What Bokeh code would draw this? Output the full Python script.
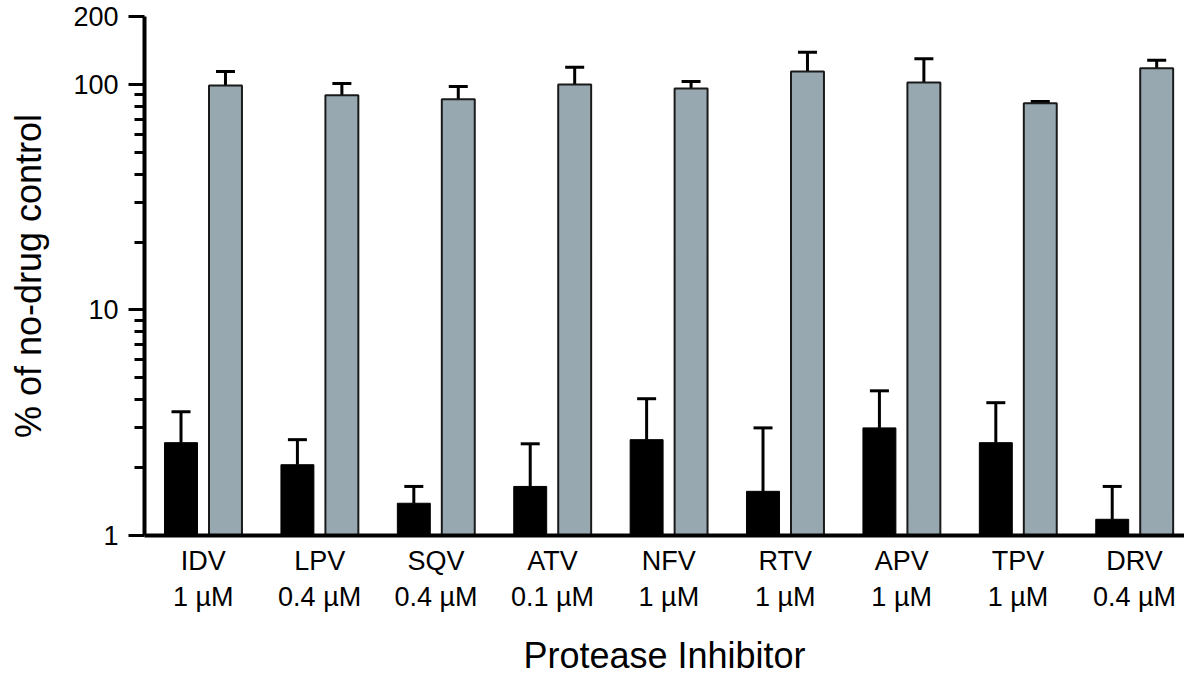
from bokeh.plotting import figure
from bokeh.models import ColumnDataSource, Whisker, TeeHead, FixedTicker, Range1d
from bokeh.embed import file_html
from bokeh.resources import INLINE

# ---- data ----
inhibitors = ["IDV", "LPV", "SQV", "ATV", "NFV", "RTV", "APV", "TPV", "DRV"]
doses = ["1 µM", "0.4 µM", "0.4 µM", "0.1 µM", "1 µM", "1 µM", "1 µM", "1 µM", "0.4 µM"]
black_vals = [2.58, 2.06, 1.39, 1.65, 2.66, 1.57, 3.00, 2.58, 1.18]
black_err = [3.54, 2.66, 1.65, 2.55, 4.04, 3.00, 4.38, 3.88, 1.65]
gray_vals = [99, 89.4, 85.9, 100, 96, 114, 102, 82.4, 118]
gray_err = [114, 101, 98, 119, 103, 139, 130, 84, 128]
y_ticks = [1, 10, 100, 200]
y_minor = [2, 3, 4, 5, 6, 7, 8, 9, 20, 30, 40, 50, 60, 70, 80, 90]

FONT = "Liberation Sans"
GRAY = "#97a8b0"

idx = list(range(len(inhibitors)))
off = 0.191
bw = 0.283

src_b = ColumnDataSource(dict(x=[i - off for i in idx], top=black_vals, up=black_err))
src_g = ColumnDataSource(dict(x=[i + off for i in idx], top=gray_vals, up=gray_err))

p = figure(width=1184, height=679, y_axis_type="log",
           x_range=Range1d(-0.5047, 8.430), y_range=Range1d(1, 200),
           output_backend="svg", toolbar_location=None,
           min_border_left=144, min_border_right=0, min_border_top=16, min_border_bottom=144)

p.vbar(x="x", top="top", bottom=1, width=bw, source=src_b,
       fill_color="black", line_color="black", line_width=1)
p.vbar(x="x", top="top", bottom=1, width=bw, source=src_g,
       fill_color=GRAY, line_color="#1a1a1a", line_width=2)

for src in (src_b, src_g):
    w = Whisker(base="x", lower="top", upper="up", source=src, dimension="height",
                line_color="black", line_width=3,
                upper_head=TeeHead(size=19, line_width=3, line_color="black"),
                lower_head=None)
    p.add_layout(w)

p.xgrid.visible = False
p.ygrid.visible = False
p.outline_line_color = None

# x axis
p.xaxis.ticker = FixedTicker(ticks=idx)
p.xaxis.major_label_overrides = {i: f"{inhibitors[i]}\n{doses[i]}" for i in idx}
p.xaxis.major_tick_line_color = None
p.xaxis.minor_tick_line_color = None
p.xaxis.major_tick_out = 0
p.xaxis.axis_line_width = 4
p.xaxis.axis_line_color = "black"
p.xaxis.major_label_text_font = FONT
p.xaxis.major_label_text_font_size = "27px"
p.xaxis.major_label_text_color = "black"
p.xaxis.major_label_standoff = 10
p.xaxis.axis_label = "Protease Inhibitor"
p.xaxis.axis_label_text_font = FONT
p.xaxis.axis_label_text_font_size = "36px"
p.xaxis.axis_label_text_font_style = "normal"
p.xaxis.axis_label_text_color = "black"
p.xaxis.axis_label_standoff = 20

# y axis
p.yaxis.ticker = FixedTicker(ticks=y_ticks, minor_ticks=y_minor)
p.yaxis.major_label_overrides = {t: str(t) for t in y_ticks}
p.yaxis.axis_line_width = 4
p.yaxis.axis_line_color = "black"
p.yaxis.major_tick_line_width = 3
p.yaxis.major_tick_out = 16
p.yaxis.major_tick_in = 0
p.yaxis.minor_tick_line_width = 3
p.yaxis.minor_tick_out = 10
p.yaxis.minor_tick_in = 0
p.yaxis.major_label_text_font = FONT
p.yaxis.major_label_text_font_size = "27px"
p.yaxis.major_label_text_color = "black"
p.yaxis.major_label_standoff = 10
p.yaxis.axis_label = "% of no-drug control"
p.yaxis.axis_label_text_font = FONT
p.yaxis.axis_label_text_font_size = "36px"
p.yaxis.axis_label_text_font_style = "normal"
p.yaxis.axis_label_text_color = "black"
p.yaxis.axis_label_standoff = 21

open("out.html", "w").write(file_html(p, INLINE))
